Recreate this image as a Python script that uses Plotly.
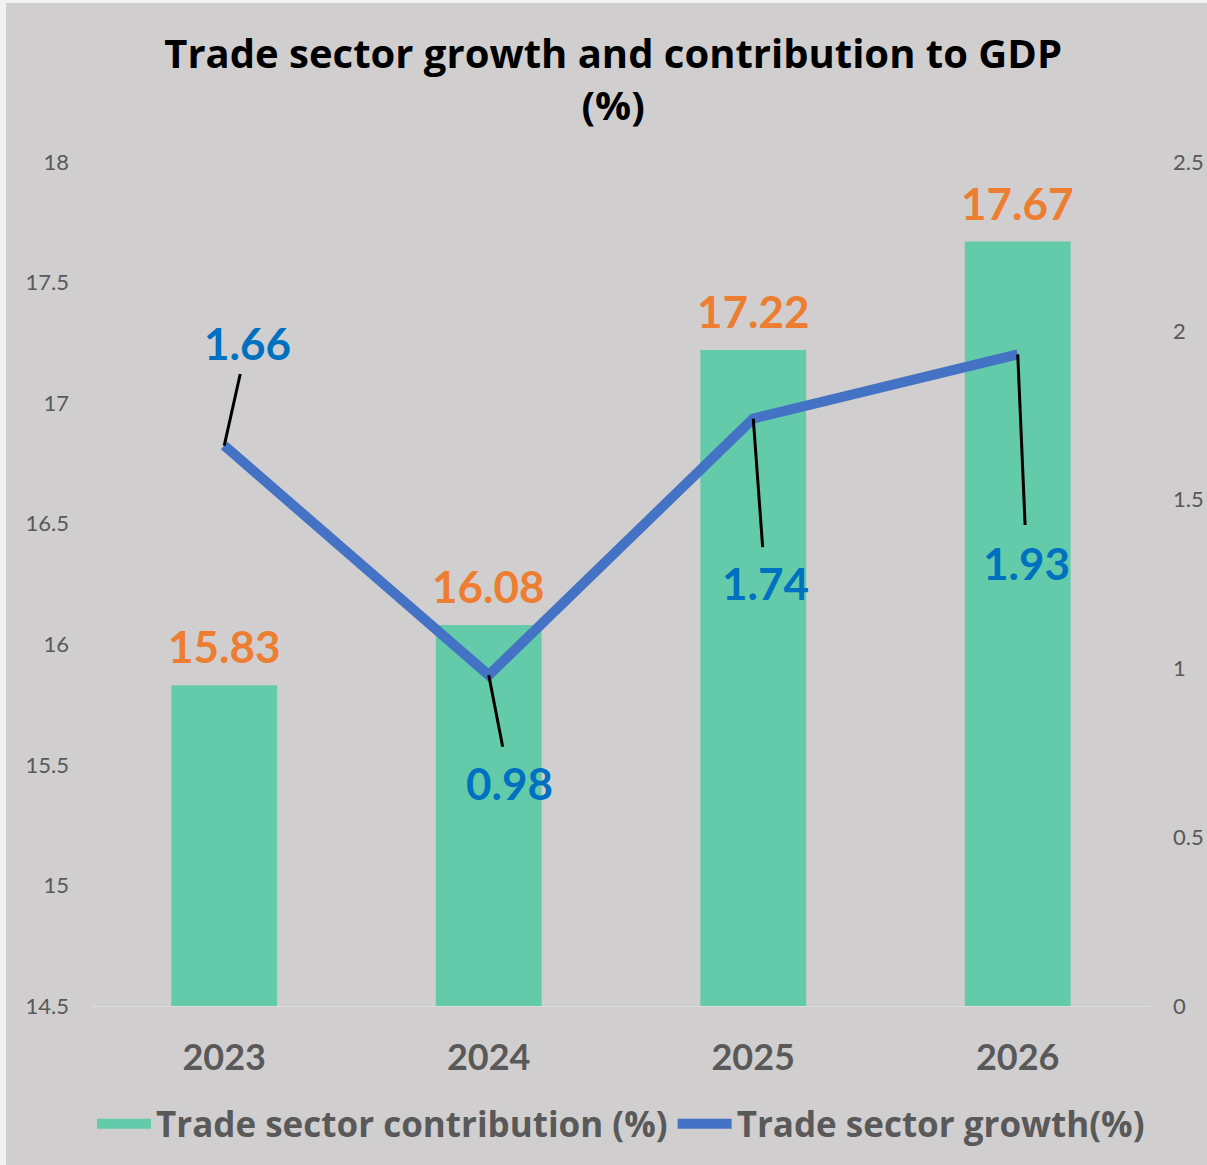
import plotly.graph_objects as go

# Data
years = ["2023", "2024", "2025", "2026"]
contribution = [15.83, 16.08, 17.22, 17.67]   # trade sector share of GDP (%)
growth = [1.66, 0.98, 1.74, 1.93]             # trade sector growth (%)

# Pixel offsets of the growth labels relative to their points
growth_label_dx = [23, 21, 12, 9]
growth_label_dy = [-103, 108, 164, 209]
growth_label_gap = [4, 9, 8, 11]

BG = "#d0cecf"
BAR = "#63cbaa"
LINE = "#4472c4"
ORANGE = "#ed7d31"
BLUE = "#0070c0"
GREY = "#595959"
FONT = "Open Sans"
NUMFONT = "Lato"

W, H = 1207, 1165
L, R, T, B = 92, 57, 162, 159

fig = go.Figure()

fig.add_trace(go.Bar(
    x=years, y=contribution, name="Trade sector contribution (%)",
    marker=dict(color=BAR, line=dict(width=0)), width=0.4,
    yaxis="y", showlegend=False,
))
# legend swatch for the bars (wide rectangle)
fig.add_trace(go.Scatter(
    x=[years[0]], y=[None], name="Trade sector contribution (%)",
    mode="lines", line=dict(color=BAR, width=20), yaxis="y",
    hoverinfo="skip",
))

fig.add_trace(go.Scatter(
    x=years, y=growth, name="Trade sector growth(%)",
    mode="lines", line=dict(color=LINE, width=10),
    yaxis="y2",
))

annotations = []
# Contribution values above each bar (x given as category index)
for i, v in enumerate(contribution):
    annotations.append(dict(
        x=i, y=v, xref="x", yref="y", text=f"{v:.2f}",
        showarrow=False, yanchor="middle", yshift=39,
        font=dict(family=NUMFONT, size=44, color=ORANGE, weight="bold"),
    ))
# Growth values with leader lines
for i, (v, dx, dy, gap) in enumerate(zip(growth, growth_label_dx, growth_label_dy, growth_label_gap)):
    annotations.append(dict(
        x=i, y=v, xref="x", yref="y2", text=f"{v:.2f}",
        showarrow=True, arrowhead=0, arrowwidth=3, arrowcolor="#000000",
        ax=dx, ay=dy, axref="pixel", ayref="pixel",
        startstandoff=gap, standoff=0,
        font=dict(family=NUMFONT, size=44, color=BLUE, weight="bold"),
    ))

pw = W - L - R
ph = H - T - B
fig.update_layout(
    width=W, height=H,
    margin=dict(l=L, r=R, t=T, b=B, autoexpand=False),
    paper_bgcolor=BG, plot_bgcolor=BG,
    title=dict(
        text="Trade sector growth and contribution to GDP<br>(%)",
        x=0.508, xanchor="center", xref="container",
        y=1 - 68 / H, yanchor="middle", yref="container",
        font=dict(family=FONT, size=40, color="#000000", weight="bold"),
    ),
    xaxis=dict(
        type="category", categoryorder="array", categoryarray=years,
        range=[-0.5, len(years) - 0.5], autorange=False, automargin=False,
        showgrid=False, showline=True, linecolor="#dcdcdc", linewidth=1,
        ticks="", zeroline=False, ticklabelstandoff=20,
        tickfont=dict(family=NUMFONT, size=36, color=GREY, weight="bold"),
    ),
    yaxis=dict(
        range=[14.5, 18], autorange=False, dtick=0.5, showgrid=False,
        zeroline=False, showline=False, ticks="", ticklabelstandoff=22,
        automargin=False,
        tickfont=dict(family=NUMFONT, size=22, color=GREY),
    ),
    yaxis2=dict(
        range=[0, 2.5], autorange=False, dtick=0.5, overlaying="y",
        side="right", showgrid=False, zeroline=False, showline=False,
        ticks="", ticklabelstandoff=22, automargin=False,
        tickfont=dict(family=NUMFONT, size=22, color=GREY),
    ),
    legend=dict(
        orientation="h", x=0.5, xanchor="center",
        y=(H - B - 1124) / ph, yanchor="middle",
        font=dict(family=FONT, size=35, color=GREY, weight="bold"),
        bgcolor="rgba(0,0,0,0)", itemwidth=54, traceorder="normal",
    ),
    annotations=annotations,
    shapes=[
        # light frame strips along the left and top edges
        dict(type="rect", xref="paper", yref="paper", layer="below",
             x0=-L / pw, x1=(6 - L) / pw, y0=-B / ph, y1=(H - B) / ph,
             fillcolor="#f2f2f2", line=dict(width=0)),
        dict(type="rect", xref="paper", yref="paper", layer="below",
             x0=-L / pw, x1=(W - L) / pw, y0=(H - B - 3) / ph, y1=(H - B) / ph,
             fillcolor="#f2f2f2", line=dict(width=0)),
    ],
    showlegend=True,
)

fig.write_html("out.html")
